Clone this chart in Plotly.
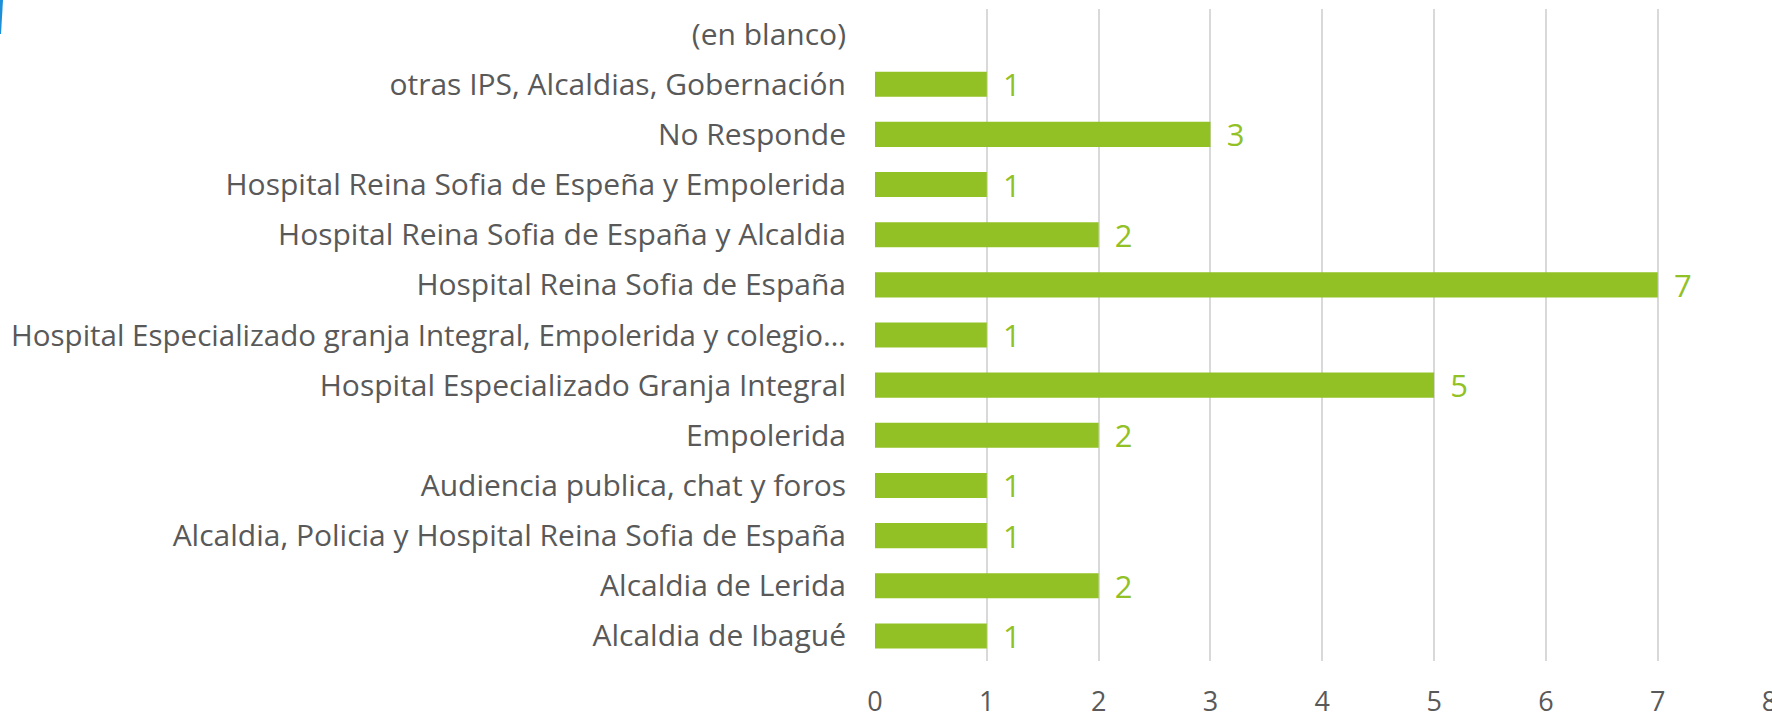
import plotly.graph_objects as go

categories = [
    "Alcaldia de Ibagué",
    "Alcaldia de Lerida",
    "Alcaldia, Policia y Hospital Reina Sofia de España",
    "Audiencia publica, chat y foros",
    "Empolerida",
    "Hospital Especializado Granja Integral",
    "Hospital Especializado granja Integral, Empolerida y colegio…",
    "Hospital Reina Sofia de España",
    "Hospital Reina Sofia de España y Alcaldia",
    "Hospital Reina Sofia de Espeña y Empolerida",
    "No Responde",
    "otras IPS, Alcaldias, Gobernación",
    "(en blanco)",
]
values = [1, 2, 1, 1, 2, 5, 1, 7, 2, 1, 3, 1, None]
x_ticks = [0, 1, 2, 3, 4, 5, 6, 7, 8]

GREEN = "#92C125"
GREY = "#595959"
FONT = "'Open Sans', Lato, sans-serif"

# plot area in pixels
L, R, T, B = 875, 2, 9, 52
W, H = 1772, 713
PW, PH = W - L - R, H - T - B

def px_x(px):
    return (px - L) / PW

def px_y(py):
    return (H - B - py) / PH

# the one long (truncated) label is set a touch smaller so it fits the margin
tick_text = [
    ("<span style='font-size:29.5px'>" + c + "</span>") if c.endswith("…") else c
    for c in categories
]

fig = go.Figure()
fig.add_trace(go.Bar(
    y=categories,
    x=values,
    orientation="h",
    marker=dict(color=GREEN, line=dict(width=0)),
    text=[("" if v is None else str(v)) for v in values],
    texttemplate=" \u2009%{text}",
    textposition="outside",
    constraintext="none",
    textfont=dict(color=GREEN, size=31, family=FONT),
    cliponaxis=False,
))

blue_path = "M {} {} L {} {} L {} {} L {} {} Z".format(
    px_x(0), px_y(0), px_x(3), px_y(0), px_x(1), px_y(34), px_x(0), px_y(34))

fig.update_layout(
    width=W, height=H,
    margin=dict(l=L, r=R, t=T, b=B, autoexpand=False),
    paper_bgcolor="white",
    plot_bgcolor="white",
    bargap=0.5,
    showlegend=False,
    font=dict(family=FONT, color=GREY),
    shapes=[dict(
        type="path", xref="paper", yref="paper",
        path=blue_path,
        fillcolor="#1B8FD8", line=dict(width=0),
    )],
)
fig.update_xaxes(
    range=[0, 8.004],
    tickvals=x_ticks,
    showgrid=True, gridcolor="#D9D9D9", gridwidth=1.5,
    zeroline=False, showline=False,
    tickfont=dict(size=27, color=GREY, family=FONT),
    ticklabelstandoff=22,
    ticklabeloverflow="allow",
    automargin=False,
)
fig.update_yaxes(
    categoryorder="array", categoryarray=categories,
    tickmode="array", tickvals=categories, ticktext=tick_text,
    showgrid=False, zeroline=False, showline=False,
    tickfont=dict(size=30, color=GREY, family=FONT),
    ticklabelstandoff=28,
    ticks="",
    automargin=False,
)

fig.write_html(
    "out.html",
    config={"displayModeBar": False},
    post_script="document.body.style.margin='0px';document.body.style.overflow='hidden';",
)
